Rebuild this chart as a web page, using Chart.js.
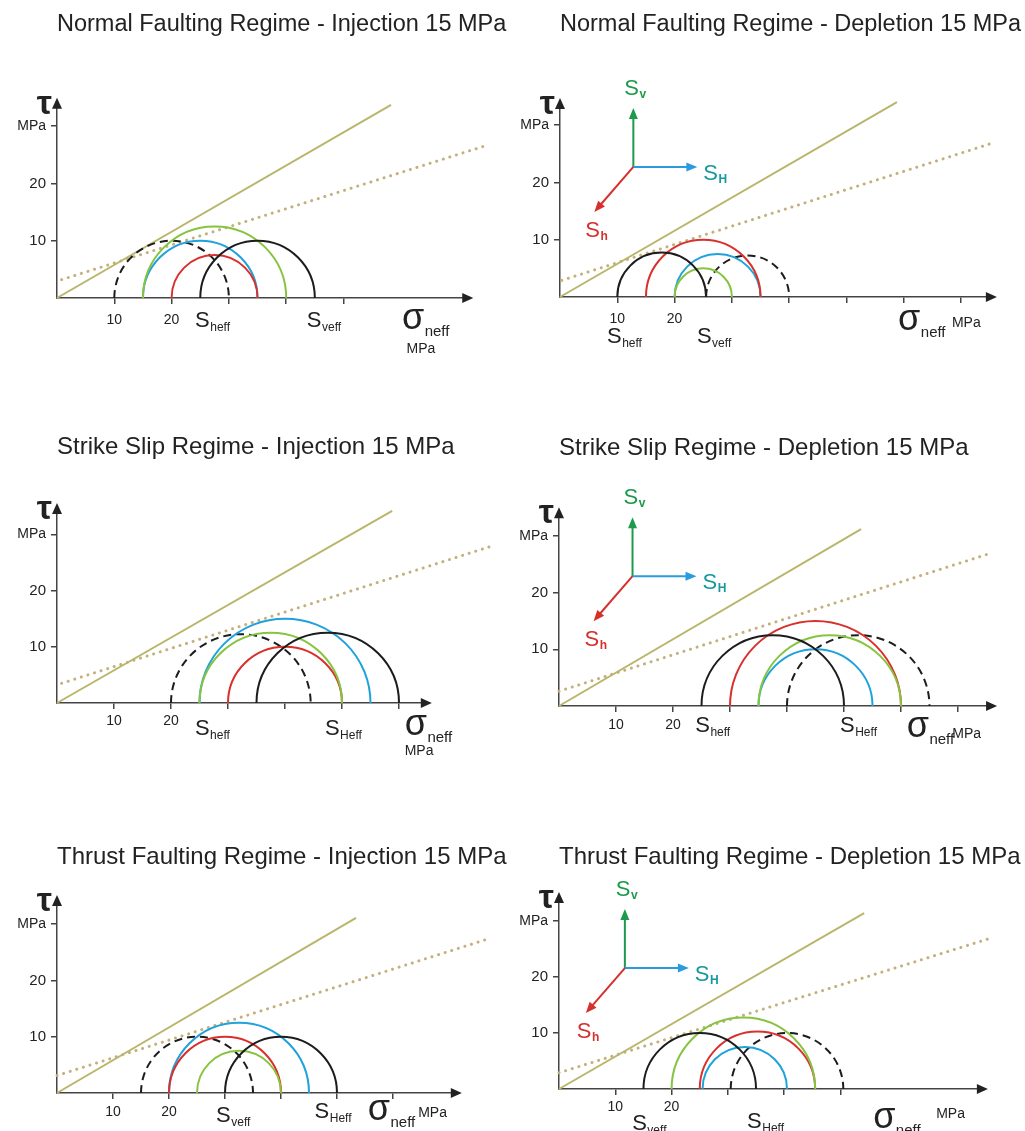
<!DOCTYPE html>
<html>
<head>
<meta charset="utf-8">
<title>Mohr circles - injection and depletion</title>
<script src="https://cdn.jsdelivr.net/npm/chart.js@4.4.1/dist/chart.umd.min.js"></script>
<style>
  html, body { margin: 0; padding: 0; background: #fff; }
  body { width: 1025px; height: 1131px; position: relative; overflow: hidden; }
  canvas { position: absolute; }
</style>
</head>
<body>
<canvas id="p0" width="512" height="405" style="left:0;top:0"></canvas>
<canvas id="p1" width="513" height="405" style="left:512px;top:0"></canvas>
<canvas id="p2" width="512" height="410" style="left:0;top:405px"></canvas>
<canvas id="p3" width="513" height="410" style="left:512px;top:405px"></canvas>
<canvas id="p4" width="512" height="316" style="left:0;top:815px"></canvas>
<canvas id="p5" width="513" height="316" style="left:512px;top:815px"></canvas>
<script>
const FONT = "'Liberation Sans', Arial, Helvetica, sans-serif";

const titles = [
  'Normal Faulting Regime - Injection 15 MPa',
  'Normal Faulting Regime - Depletion 15 MPa',
  'Strike Slip Regime - Injection 15 MPa',
  'Strike Slip Regime - Depletion 15 MPa',
  'Thrust Faulting Regime - Injection 15 MPa',
  'Thrust Faulting Regime - Depletion 15 MPa'
];

// Mohr circles as [sigma3, sigma1] effective stress in MPa
// order in every panel: dashed black, blue, red, green, solid black
const normalInjection = [[10, 30], [15, 35], [20, 35], [15, 40], [25, 45]];
const normalDepletion = [[25.5, 40], [20, 35], [15, 35], [20, 30], [10, 25.5]];
const strikeInjection = [[20, 44.5], [25, 55], [30, 50], [25, 50], [35, 60]];
const strikeDepletion = [[40, 65], [35, 55], [30, 60], [35, 60], [25, 50]];
const thrustInjection = [[15, 35], [20, 45], [20, 40], [25, 40], [30, 50]];
const thrustDepletion = [[30.5, 50.5], [25.5, 40.5], [25, 45.5], [20, 45.5], [15, 35]];
const circleSets = [normalInjection, normalDepletion, strikeInjection, strikeDepletion, thrustInjection, thrustDepletion];

// failure envelopes [sigma, tau]: solid one starts at the origin, dotted one has cohesion
const solidEnd = [[58.3, 33.7], [58.8, 34], [58.8, 34.2], [53, 31.2], [53.4, 31.1], [54.2, 31.4]];
const dottedStart = [[0.8, 3.2], [0.3, 2.9], [0.8, 3.5], [0, 2.6], [0, 3.1], [0, 2.9]];
const dottedEnd = [[75.2, 26.7], [75.6, 26.9], [76.2, 27.9], [75.9, 27.0], [77.1, 27.4], [77.2, 27.1]];

// axis lengths and ticks
const axisMaxX = [70.9, 74.5, 64, 75.1, 70.5, 74.4];
const axisMaxY = [33.2, 33, 33.8, 33.3, 33.4, 33.4];
const lastTickX = [50, 70, 60, 70, 60, 50];
const xTickLabels = { 10: '10', 20: '20' };
const yTickLabels = { 10: '10', 20: '20', 30: 'MPa' };

const circleStyles = [
  { color: '#1c1c1c', dash: [8, 5] },
  { color: '#1fa2dc' },
  { color: '#d9302c' },
  { color: '#86c440' },
  { color: '#1c1c1c' }
];

// page placement of each panel (pixels) and its text labels
const panels = [
  { left: 0, top: 0, w: 512, h: 405, ox: 57, oy: 298, kx: 5.73, ky: 5.73, titleY: 24, titleSize: 23.5, tickPad: 8,
    labels: [[24.1, 29, 'heff'], [43.6, 29, 'veff']], sigma: [60.2, 31], mpa: [61, 55] },
  { left: 512, top: 0, w: 513, h: 405, ox: 560, oy: 297, kx: 5.73, ky: 5.73, titleY: 24, titleSize: 23.5, tickPad: 8,
    labels: [[8.2, 46, 'heff'], [23.9, 46, 'veff']], sigma: [59, 33], mpa: [68.4, 30], inset: [12.8, 22.7] },
  { left: 0, top: 405, w: 512, h: 410, ox: 57, oy: 703, kx: 5.7, ky: 5.62, titleY: 41, titleSize: 24, tickPad: 4,
    labels: [[24.2, 32, 'heff'], [47, 32, 'Heff']], sigma: [61, 32], mpa: [61, 52] },
  { left: 512, top: 405, w: 513, h: 410, ox: 559, oy: 706, kx: 5.7, ky: 5.67, titleY: 42, titleSize: 24, tickPad: 5,
    labels: [[23.9, 26, 'heff'], [49.3, 26, 'Heff']], sigma: [61, 31], mpa: [69, 32], inset: [12.9, 22.9] },
  { left: 0, top: 815, w: 512, h: 316, ox: 57, oy: 1093, kx: 5.6, ky: 5.63, titleY: 41, titleSize: 24, tickPad: 5,
    labels: [[28.4, 29, 'veff'], [46, 25, 'Heff']], sigma: [55.5, 27], mpa: [64.5, 24] },
  { left: 512, top: 815, w: 513, h: 316, ox: 559, oy: 1089, kx: 5.63, ky: 5.6, titleY: 41, titleSize: 24, tickPad: 4,
    labels: [[13, 41, 'veff'], [33.4, 39, 'Heff']], sigma: [55.8, 39], mpa: [67, 29], inset: [11.7, 21.6] }
];

const Y_AXIS_W = 40;
const X_AXIS_H = 30;

function subText(ctx, x, y, main, sub, mainSize, subSize, drop, weight) {
  ctx.font = mainSize + 'px ' + FONT;
  ctx.fillText(main, x, y);
  const w = ctx.measureText(main).width;
  ctx.font = (weight || '') + ' ' + subSize + 'px ' + FONT;
  ctx.fillText(sub, x + w + 0.5, y + drop);
}

function arrow(ctx, x1, y1, x2, y2, color) {
  const a = Math.atan2(y2 - y1, x2 - x1);
  const len = 11, half = 4.5;
  ctx.strokeStyle = color;
  ctx.fillStyle = color;
  ctx.lineWidth = 2;
  ctx.beginPath();
  ctx.moveTo(x1, y1);
  ctx.lineTo(x2 - Math.cos(a) * len * 0.8, y2 - Math.sin(a) * len * 0.8);
  ctx.stroke();
  ctx.beginPath();
  ctx.moveTo(x2, y2);
  ctx.lineTo(x2 - Math.cos(a) * len - Math.sin(a) * half, y2 - Math.sin(a) * len + Math.cos(a) * half);
  ctx.lineTo(x2 - Math.cos(a) * len + Math.sin(a) * half, y2 - Math.sin(a) * len - Math.cos(a) * half);
  ctx.closePath();
  ctx.fill();
}

function mohrPlugin(i) {
  const P = panels[i];
  return {
    id: 'mohr' + i,
    afterDatasetsDraw(chart) {
      const { ctx, scales: { x, y } } = chart;
      const y0 = y.getPixelForValue(0);
      ctx.save();
      ctx.lineWidth = 2;
      circleSets[i].forEach((c, j) => {
        const st = circleStyles[j];
        const cx = x.getPixelForValue((c[0] + c[1]) / 2);
        const rx = x.getPixelForValue(c[1]) - cx;
        const ry = y0 - y.getPixelForValue((c[1] - c[0]) / 2);
        ctx.setLineDash(st.dash || []);
        ctx.strokeStyle = st.color;
        ctx.beginPath();
        ctx.ellipse(cx, y0, rx, ry, 0, Math.PI, 2 * Math.PI);
        ctx.stroke();
      });
      ctx.restore();
    },
    afterDraw(chart) {
      const { ctx, chartArea: ca, scales: { x, y } } = chart;
      const y0 = y.getPixelForValue(0);
      ctx.save();
      ctx.fillStyle = '#222';

      // panel title, starting over the tau axis
      ctx.textAlign = 'left';
      ctx.textBaseline = 'middle';
      ctx.font = P.titleSize + 'px ' + FONT;
      ctx.fillText(titles[i], ca.left, P.titleY + 1);

      // arrow heads of the axes
      ctx.beginPath();
      ctx.moveTo(ca.right + 10, y0);
      ctx.lineTo(ca.right - 1, y0 - 5);
      ctx.lineTo(ca.right - 1, y0 + 5);
      ctx.closePath();
      ctx.fill();
      ctx.beginPath();
      ctx.moveTo(ca.left, ca.top - 10);
      ctx.lineTo(ca.left - 5, ca.top + 1);
      ctx.lineTo(ca.left + 5, ca.top + 1);
      ctx.closePath();
      ctx.fill();

      ctx.textBaseline = 'alphabetic';
      ctx.textAlign = 'right';
      ctx.font = 'bold 34px ' + FONT;
      ctx.fillText('\u03c4', ca.left - 5, ca.top + 6);

      ctx.textAlign = 'left';
      P.labels.forEach(l => {
        subText(ctx, x.getPixelForValue(l[0]), y0 + l[1], 'S', l[2], 22, 12, 4);
      });
      subText(ctx, x.getPixelForValue(P.sigma[0]), y0 + P.sigma[1], '\u03c3', 'neff', 36, 15, 7);
      ctx.font = '14px ' + FONT;
      ctx.fillText('MPa', x.getPixelForValue(P.mpa[0]), y0 + P.mpa[1]);

      if (P.inset) {
        const bx = x.getPixelForValue(P.inset[0]);
        const by = y.getPixelForValue(P.inset[1]);
        arrow(ctx, bx, by, bx, by - 59, '#1d9a4c');
        arrow(ctx, bx, by, bx + 64, by, '#2b9be0');
        arrow(ctx, bx, by, bx - 39, by + 45, '#d6302e');
        ctx.fillStyle = '#1d9a4c';
        subText(ctx, bx - 9, by - 72, 'S', 'v', 22, 12, 3, 'bold');
        ctx.fillStyle = '#16999c';
        subText(ctx, bx + 70, by + 13, 'S', 'H', 22, 12, 3, 'bold');
        ctx.fillStyle = '#d6302e';
        subText(ctx, bx - 48, by + 70, 'S', 'h', 22, 12, 3, 'bold');
      }
      ctx.restore();
    }
  };
}

panels.forEach((P, i) => {
  const chartLeft = P.ox - P.left;
  const chartBottom = P.oy - P.top;
  const chartRight = chartLeft + axisMaxX[i] * P.kx;
  const chartTop = chartBottom - axisMaxY[i] * P.ky;

  new Chart(document.getElementById('p' + i), {
    type: 'scatter',
    data: {
      datasets: [
        {
          label: 'envelope',
          data: [{ x: 0, y: 0 }, { x: solidEnd[i][0], y: solidEnd[i][1] }],
          showLine: true,
          borderColor: '#b9b66b',
          borderWidth: 2,
          pointRadius: 0,
          clip: false
        },
        {
          label: 'envelope with cohesion',
          data: [{ x: dottedStart[i][0], y: dottedStart[i][1] }, { x: dottedEnd[i][0], y: dottedEnd[i][1] }],
          showLine: true,
          borderColor: '#c4b07a',
          borderWidth: 3,
          borderDash: [0.1, 6.8],
          borderCapStyle: 'round',
          pointRadius: 0,
          clip: false
        }
      ]
    },
    options: {
      responsive: false,
      animation: false,
      events: [],
      layout: {
        padding: {
          left: chartLeft - Y_AXIS_W,
          right: P.w - chartRight,
          top: chartTop,
          bottom: P.h - chartBottom - X_AXIS_H
        }
      },
      plugins: {
        legend: { display: false },
        tooltip: { enabled: false },
        title: { display: false }
      },
      scales: {
        x: {
          type: 'linear',
          min: 0,
          max: axisMaxX[i],
          afterFit: s => { s.height = X_AXIS_H; },
          afterBuildTicks: s => { s.ticks = s.ticks.filter(t => t.value > 0 && t.value <= lastTickX[i]); },
          ticks: {
            stepSize: 10,
            includeBounds: false,
            autoSkip: false,
            maxRotation: 0,
            padding: P.tickPad,
            color: '#222',
            font: { family: FONT, size: 14 },
            callback: v => xTickLabels[v] || ''
          },
          grid: { drawOnChartArea: false, drawTicks: true, tickLength: 6, color: '#444', lineWidth: 1.5 },
          border: { display: true, color: '#444', width: 1.5 }
        },
        y: {
          type: 'linear',
          min: 0,
          max: axisMaxY[i],
          afterFit: s => { s.width = Y_AXIS_W; },
          afterBuildTicks: s => { s.ticks = s.ticks.filter(t => t.value > 0); },
          ticks: {
            stepSize: 10,
            includeBounds: false,
            padding: 5,
            color: '#222',
            font: ctx => ({ family: FONT, size: ctx.tick && ctx.tick.value === 30 ? 14 : 15 }),
            callback: v => yTickLabels[v] || ''
          },
          grid: { drawOnChartArea: false, drawTicks: true, tickLength: 6, color: '#444', lineWidth: 1.5 },
          border: { display: true, color: '#444', width: 1.5 }
        }
      }
    },
    plugins: [mohrPlugin(i)]
  });
});
</script>
</body>
</html>
